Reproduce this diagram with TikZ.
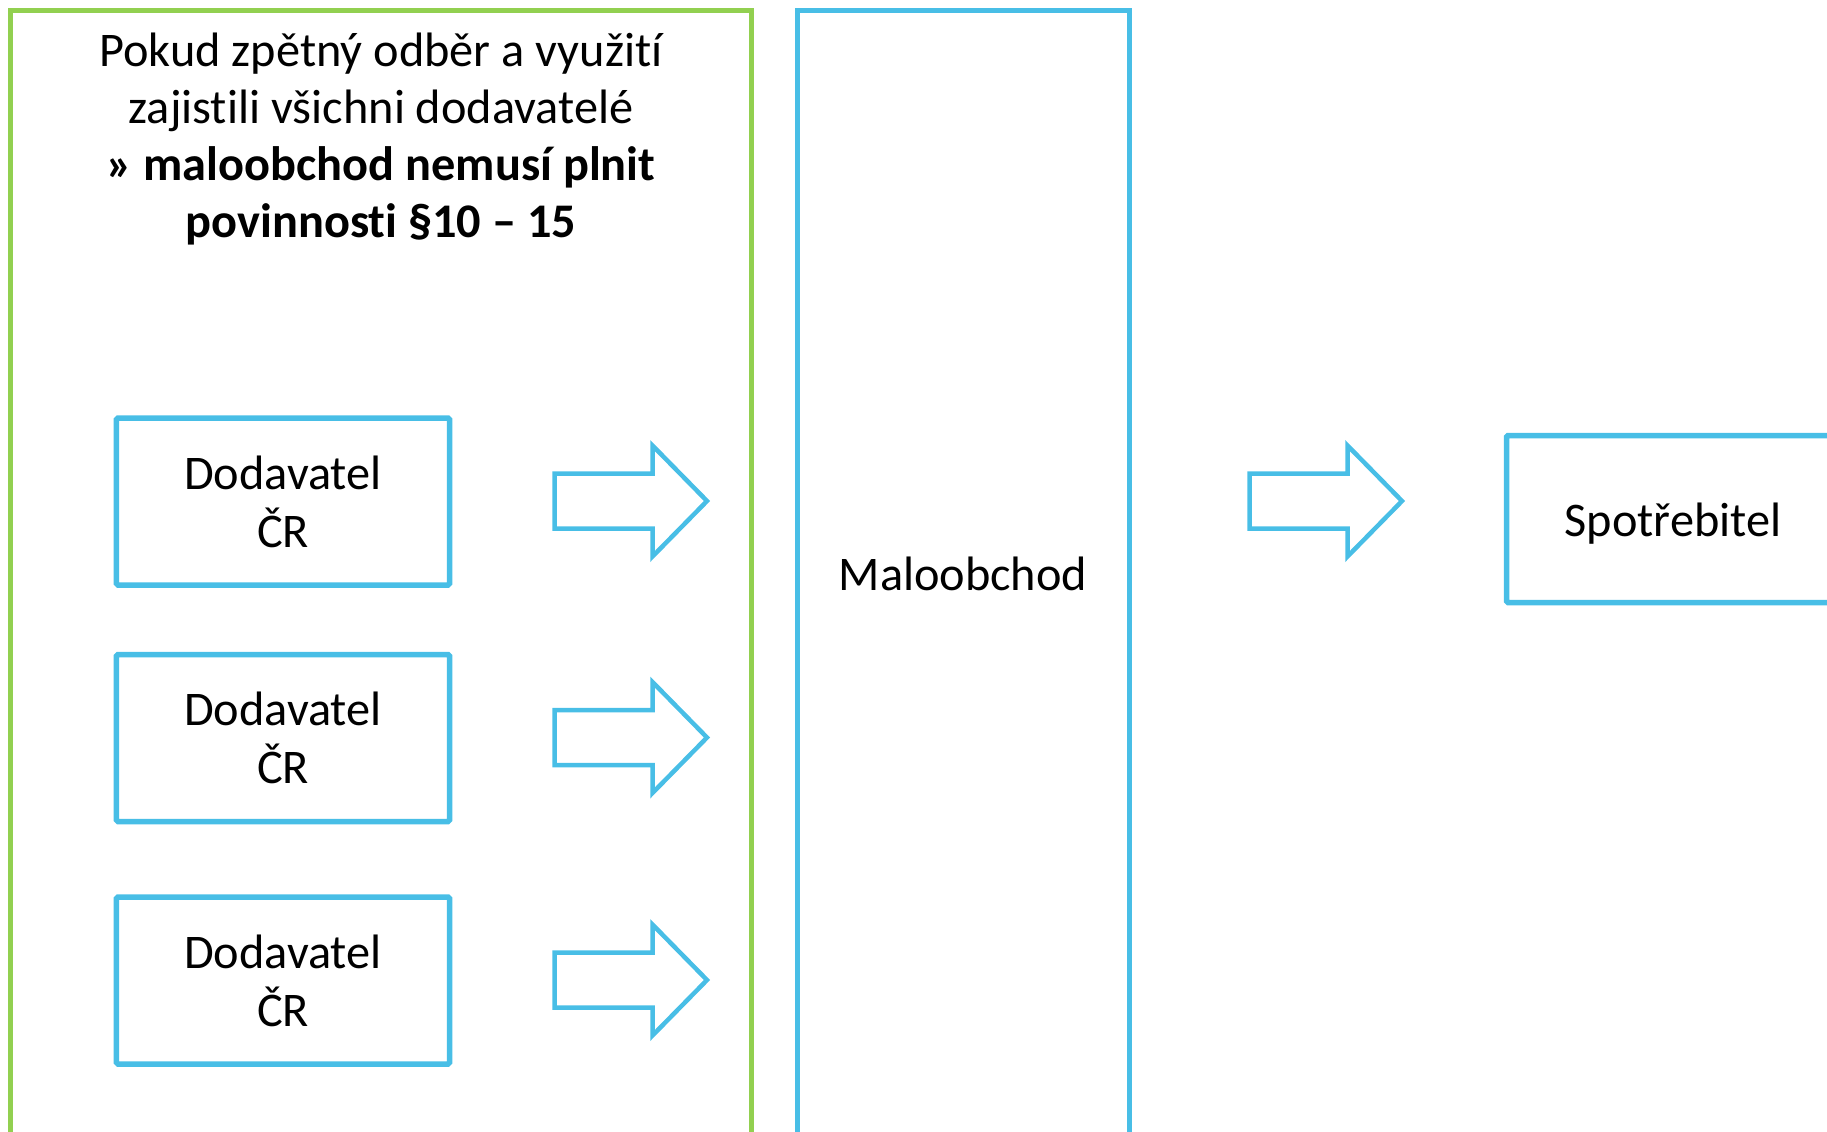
\documentclass[tikz,border=0pt]{standalone}
\usepackage{fontspec}
\setmainfont{Carlito}[Ligatures={NoCommon}]
\definecolor{cblue}{HTML}{48BEE6}
\definecolor{cgreen}{HTML}{92D050}
\tikzset{
  bluebox/.style={draw=cblue, line width=5.5bp, rounded corners=1.5bp, fill=white, inner sep=0pt, align=center,
     font=\fontsize{48.5}{58}\selectfont},
  barrow/.pic={\draw[cblue, line width=4.5bp, line join=miter] (0,-27.5) -- (98,-27.5) -- (98,-55.5) -- (152.5,0) -- (98,55.5) -- (98,27.5) -- (0,27.5) -- cycle;}
}
\begin{document}
\begin{tikzpicture}[x=1bp,y=-1bp]
\useasboundingbox (0,0) rectangle (1827,1131);
\clip (0,0) rectangle (1827,1131);
% green frame
\draw[cgreen, line width=4.5bp] (10.5,1150) -- (10.5,10.5) -- (751.5,10.5) -- (751.5,1150);
\node[font=\fontsize{48.5}{57.5}\selectfont, align=center, anchor=north] (head) at (381,29)
  {Pokud zpětný odběr a využití\\ zajistili všichni dodavatelé\\ \textbf{» maloobchod nemusí plnit}\\ \textbf{povinnosti §10 – 15}};
% Maloobchod
\draw[cblue, line width=5bp] (797,1150) -- (797,10.5) -- (1129,10.5) -- (1129,1150);
\node[font=\fontsize{48.5}{58}\selectfont] (malo) at (963,574) {Maloobchod};
% Dodavatel boxes
\node[bluebox, minimum width=333bp, minimum height=167bp] (d1) at (283,501.5) {Dodavatel\\ČR};
\node[bluebox, minimum width=333bp, minimum height=167bp] (d2) at (283,738) {Dodavatel\\ČR};
\node[bluebox, minimum width=333bp, minimum height=167bp] (d3) at (283,980.5) {Dodavatel\\ČR};
% Spotrebitel
\node[bluebox, minimum width=333bp, minimum height=167bp, text depth=0pt] (sp) at (1673,519) {};
\node[font=\fontsize{48.5}{58}\selectfont] (sptext) at (1673,524) {Spotřebitel};
% arrows
\pic at (554.5,501) {barrow};
\pic at (554.5,737.5) {barrow};
\pic at (554.5,980) {barrow};
\pic at (1249.5,501) {barrow};
\end{tikzpicture}
\end{document}
